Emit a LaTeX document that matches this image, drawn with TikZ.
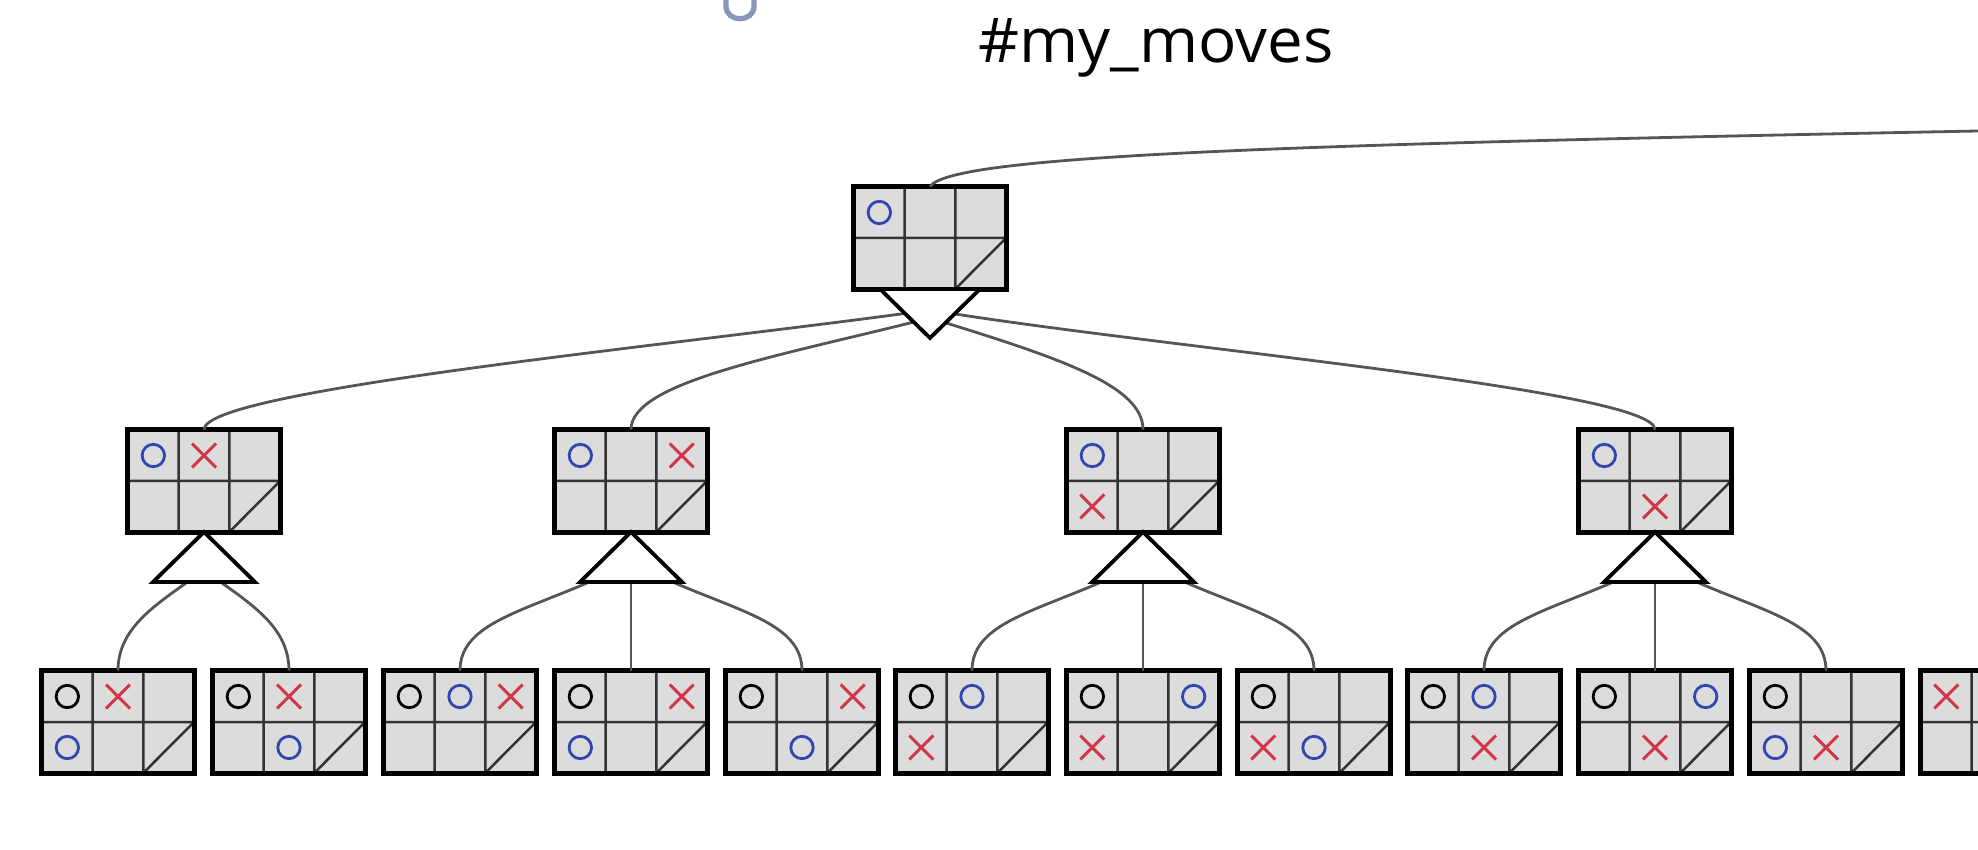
\documentclass[tikz,border=0pt]{standalone}
\usepackage{fontspec}
\newfontfamily\titlefont{Open Sans}
\definecolor{boardfill}{HTML}{DCDCDC}
\definecolor{oblue}{HTML}{3346B0}
\definecolor{xred}{HTML}{D0384A}
\definecolor{linkgray}{HTML}{555555}
\definecolor{fragblue}{HTML}{8796BA}
\tikzset{
  boardbox/.style={rectangle, minimum width=76pt, minimum height=51pt, inner sep=0pt, fill=boardfill},
  gridline/.style={line width=1.25pt, draw=black!80},
  frame/.style={line width=2.2pt, draw=black},
  link/.style={line width=1.4pt, draw=linkgray},
  tri/.style={line width=1.9pt, draw=black, fill=white, line join=miter},
  pics/bo/.style={code={\draw[line width=1.4pt, draw=oblue] (0,0) circle[radius=5.6pt];}},
  pics/ko/.style={code={\draw[line width=1.4pt, draw=black] (0,0) circle[radius=5.6pt];}},
  pics/rx/.style={code={\draw[line width=1.5pt, draw=xred] (-12,-12) -- (12,12) (-12,12) -- (12,-12);}},
}
\newcommand\board[4]{%
  \begin{scope}[shift={(#2,#3)}]
    \node[boardbox] (#1) at (0,0) {};
    \draw[gridline] (-25.33,-51) -- (-25.33,51) (25.33,-51) -- (25.33,51)
      (-76,0) -- (76,0) (25.33,51) -- (76,0);
    \foreach \mt/\mc/\mr in {#4} {\pic at ({(\mc-1)*50.67},{(\mr-0.5)*51}) {\mt};}
    \draw[frame] (#1.north west) rectangle (#1.south east);
  \end{scope}}
\begin{document}
\begin{tikzpicture}[x=0.5pt,y=-0.5pt]
\useasboundingbox (0,0) rectangle (1978,850);
\clip (0,0) rectangle (1978,850);

% fragment of the cut-off title above
\draw[fragblue, line width=2.6pt] (726,-4) -- (726,6) .. controls (726,23) and (754,23) .. (754,6) -- (754,-4);

% title
\node[anchor=base west, inner sep=0pt] (title) at (978,63)
  {\resizebox{177.5pt}{22pt}{\titlefont\#my\_moves}};

% coordinates
\coordinate (up) at (1978,131);
\coordinate (r-ap) at (930,338);
\coordinate (r-tl) at (880,289);
\coordinate (r-tr) at (980,289);
\coordinate (r-o) at (930,310);
\coordinate (r-i) at (930,318);

\foreach \n/\cx in {ma/204, mb/631, mc/1143, md/1655} {
  \coordinate (\n-ap) at (\cx,532);
  \coordinate (\n-bl) at (\cx-51,582);
  \coordinate (\n-br) at (\cx+51,582);
  \coordinate (\n-l) at (\cx-44,583);
  \coordinate (\n-r) at (\cx+44,583);
  \coordinate (\n-c) at (\cx,583);
  \coordinate (\n-sl) at (\cx-18,583);
  \coordinate (\n-sr) at (\cx+18,583);
}

% boards
\board{root}{930}{238}{bo/0/0}
\board{ma}{204}{481}{bo/0/0, rx/1/0}
\board{mb}{631}{481}{bo/0/0, rx/2/0}
\board{mc}{1143}{481}{bo/0/0, rx/0/1}
\board{md}{1655}{481}{bo/0/0, rx/1/1}

\board{lf1}{118}{722}{ko/0/0, rx/1/0, bo/0/1}
\board{lf2}{289}{722}{ko/0/0, rx/1/0, bo/1/1}
\board{lf3}{460}{722}{ko/0/0, bo/1/0, rx/2/0}
\board{lf4}{631}{722}{ko/0/0, rx/2/0, bo/0/1}
\board{lf5}{802}{722}{ko/0/0, rx/2/0, bo/1/1}
\board{lf6}{972}{722}{ko/0/0, bo/1/0, rx/0/1}
\board{lf7}{1143}{722}{ko/0/0, bo/2/0, rx/0/1}
\board{lf8}{1314}{722}{ko/0/0, rx/0/1, bo/1/1}
\board{lf9}{1484}{722}{ko/0/0, bo/1/0, rx/1/1}
\board{lf10}{1655}{722}{ko/0/0, bo/2/0, rx/1/1}
\board{lf11}{1826}{722}{ko/0/0, bo/0/1, rx/1/1}
\board{lf12}{1997}{722}{rx/0/0}

% connectors
\draw[link] (root.north) .. controls +(20,-30) and +(-728,14) .. (up);
\draw[link] (r-o) .. controls +(-250,35) and +(0,-40) .. (ma.north);
\draw[link] (r-i) .. controls +(-150,38) and +(0,-48) .. (mb.north);
\draw[link] (r-i) .. controls +(130,40) and +(0,-44) .. (mc.north);
\draw[link] (r-o) .. controls +(230,38) and +(0,-40) .. (md.north);

\draw[link] (ma-sl) .. controls +(-35,25) and +(0,-40) .. (lf1.north);
\draw[link] (ma-sr) .. controls +(35,25) and +(0,-40) .. (lf2.north);
\foreach \n/\a/\b/\c in {mb/lf3/lf4/lf5, mc/lf6/lf7/lf8, md/lf9/lf10/lf11} {
  \draw[link] (\n-l) .. controls +(-70,30) and +(0,-45) .. (\a.north);
  \draw[link] (\n-c) -- (\b.north);
  \draw[link] (\n-r) .. controls +(70,30) and +(0,-45) .. (\c.north);
}

% triangles
\draw[tri] (r-tl) -- (r-tr) -- (r-ap) -- cycle;
\foreach \n in {ma, mb, mc, md} {
  \draw[tri] (\n-ap) -- (\n-br) -- (\n-bl) -- cycle;
}
\end{tikzpicture}
\end{document}
